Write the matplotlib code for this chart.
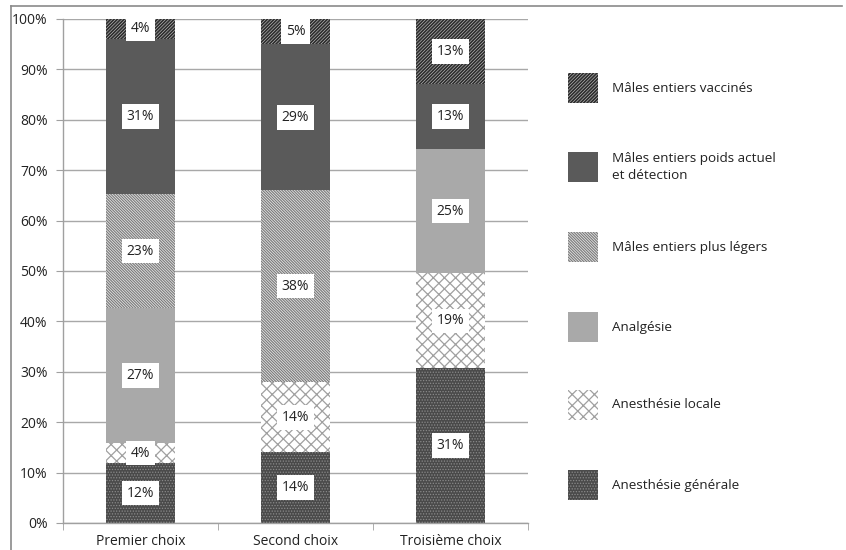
import matplotlib
matplotlib.use("Agg")
import matplotlib.pyplot as plt
from matplotlib.patches import Rectangle
from matplotlib.lines import Line2D
import numpy as np

categories = ["Premier choix", "Second choix", "Troisième choix"]
series_names = [
    "Anesthésie générale",
    "Anesthésie locale",
    "Analgésie",
    "Mâles entiers plus légers",
    "Mâles entiers poids actuel\net détection",
    "Mâles entiers vaccinés",
]
# percentages (bottom to top)
anesthesie_generale = [12, 14, 31]
anesthesie_locale = [4, 14, 19]
analgesie = [27, 0, 25]
plus_legers = [23, 38, 0]
poids_actuel = [31, 29, 13]
vaccines = [4, 5, 13]
series_values = [anesthesie_generale, anesthesie_locale, analgesie,
                 plus_legers, poids_actuel, vaccines]
ytick_labels = ["0%", "10%", "20%", "30%", "40%", "50%", "60%", "70%", "80%", "90%", "100%"]

styles = [
    dict(face="#4a4a4a", hatch="......", hcol="#8a8a8a", hlw=0.6),
    dict(face="#ffffff", hatch="xxx", hcol="#a0a0a0", hlw=0.9),
    dict(face="#a9a9a9", hatch=None, hcol="#a9a9a9", hlw=0.5),
    dict(face="#e4e4e4", hatch="\\" * 12, hcol="#7a7a7a", hlw=0.8),
    dict(face="#5a5a5a", hatch=None, hcol="#5a5a5a", hlw=0.5),
    dict(face="#d0d0d0", hatch="/" * 10, hcol="#2e2e2e", hlw=1.3),
]

plt.rcParams["font.family"] = ["Open Sans", "DejaVu Sans"]

fig = plt.figure(figsize=(8.46, 5.5), dpi=100)
ax = fig.add_axes([63 / 846, 1 - 523 / 550, (528 - 63) / 846, (523 - 19) / 550])

vals = np.array(series_values, dtype=float)
totals = vals.sum(axis=0)
pct = vals / totals * 100
x = np.arange(len(categories))
width = 0.45
bottom = np.zeros(len(categories))

def style_patch(p, st):
    p.set_facecolor(st["face"])
    p.set_edgecolor(st["hcol"])
    p.set_linewidth(0)
    if st["hatch"]:
        p.set_hatch(st["hatch"])
        try:
            p.set_hatch_linewidth(st["hlw"])
        except Exception:
            pass

for i, st in enumerate(styles):
    bars = ax.bar(x, pct[i], width, bottom=bottom, zorder=2)
    for b in bars:
        style_patch(b, st)
    for j in range(len(categories)):
        if vals[i, j] > 0:
            ax.text(x[j], bottom[j] + pct[i, j] / 2, f"{int(vals[i, j])}%",
                    ha="center", va="center", fontsize=10, color="#222222",
                    family=["Open Sans", "DejaVu Sans"], zorder=4,
                    bbox=dict(facecolor="white", edgecolor="none", pad=3.5))
    bottom += pct[i]

ax.set_xlim(-0.5, len(categories) - 0.5)
ax.set_ylim(0, 100)
ax.set_yticks(np.arange(0, 101, 10))
ax.set_yticklabels(ytick_labels, fontsize=10, color="#222222")
ax.set_xticks(x)
ax.set_xticklabels(categories, fontsize=10, color="#222222")
ax.set_xticks(np.arange(-0.5, len(categories), 1), minor=True)
ax.tick_params(axis="x", which="major", length=0, pad=8)
ax.tick_params(axis="x", which="minor", length=5, color="#a0a0a0", direction="out")
ax.tick_params(axis="y", length=5, color="#a0a0a0", pad=6)
ax.yaxis.grid(True, color="#a8a8a8", linewidth=1.0, zorder=0)
ax.set_axisbelow(True)
for s in ["top", "right"]:
    ax.spines[s].set_visible(False)
for s in ["left", "bottom"]:
    ax.spines[s].set_color("#a0a0a0")
    ax.spines[s].set_linewidth(1.0)

# legend drawn manually (top to bottom: reverse stack order)
leg_centers = [485, 405, 327, 247, 167, 88]
for i, st in enumerate(styles):
    yc = leg_centers[i]
    r = Rectangle((568 / 846, 1 - (yc + 15) / 550), 30 / 846, 30 / 550,
                  transform=fig.transFigure, figure=fig)
    style_patch(r, st)
    fig.patches.append(r)
    fig.text(612 / 846, 1 - yc / 550, series_names[i], ha="left", va="center",
             fontsize=9.7, color="#222222", linespacing=1.35)

# figure frame (top and left)
fig.add_artist(Line2D([11 / 846, 842 / 846], [1 - 6 / 550, 1 - 6 / 550],
                      transform=fig.transFigure, color="#8a8a8a", linewidth=1.2))
fig.add_artist(Line2D([11 / 846, 11 / 846], [0, 1 - 6 / 550],
                      transform=fig.transFigure, color="#8a8a8a", linewidth=1.2))

fig.savefig("out.png", dpi=100)
